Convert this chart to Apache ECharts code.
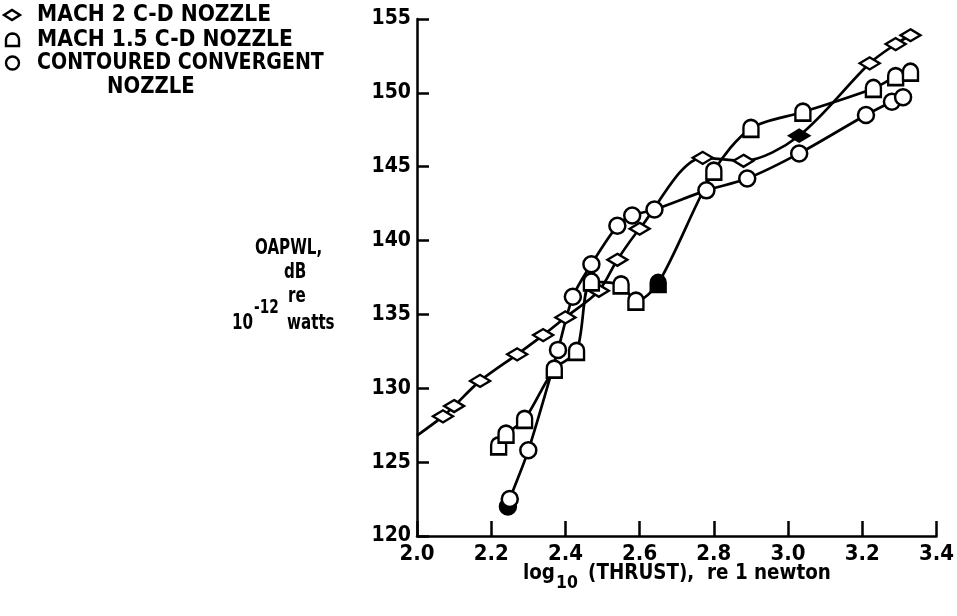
<!DOCTYPE html>
<html><head><meta charset="utf-8">
<script src="https://cdn.jsdelivr.net/npm/echarts@6/dist/echarts.min.js"></script>
<style>html,body{margin:0;padding:0;background:#fff}#c{width:957px;height:616px}</style>
</head><body><div id="c"></div>
<script>
// ---- data ----
const xTickRange = [2.0, 3.4];
const xTickStep = 0.2;
const yTickRange = [120, 155];
const yTickStep = 5;

const seriesNames = ['MACH 2 C-D NOZZLE', 'MACH 1.5 C-D NOZZLE', 'CONTOURED CONVERGENT NOZZLE'];

// MACH 2 C-D nozzle (diamonds)
const mach2X = [2.07, 2.10, 2.17, 2.27, 2.34, 2.40, 2.49, 2.54, 2.60, 2.77, 2.88, 3.03, 3.22, 3.29, 3.33];
const mach2Y = [128.1, 128.8, 130.5, 132.3, 133.6, 134.8, 136.6, 138.7, 140.8, 145.6, 145.4, 147.1, 152.0, 153.3, 153.9];
const mach2Filled = [0,0,0,0,0,0,0,0,0,0,0,1,0,0,0];
const mach2CurveStart = [2.0, 126.8];

// MACH 1.5 C-D nozzle (flat-bottom domes)
const mach15X = [2.22, 2.24, 2.29, 2.37, 2.43, 2.47, 2.55, 2.59, 2.65, 2.80, 2.90, 3.04, 3.23, 3.29, 3.33];
const mach15Y = [126.1, 126.9, 127.9, 131.3, 132.5, 137.2, 137.0, 135.9, 137.1, 144.7, 147.6, 148.7, 150.3, 151.1, 151.4];
const mach15Filled = [0,0,0,0,0,0,0,0,1,0,0,0,0,0,0];

// Contoured convergent nozzle (circles)
const contX = [2.245, 2.25, 2.30, 2.38, 2.42, 2.47, 2.54, 2.58, 2.64, 2.78, 2.89, 3.03, 3.21, 3.28, 3.31];
const contY = [122.0, 122.5, 125.8, 132.6, 136.2, 138.4, 141.0, 141.7, 142.1, 143.4, 144.2, 145.9, 148.5, 149.4, 149.7];
const contFilled = [1,0,0,0,0,0,0,0,0,0,0,0,0,0,0];

// ---- chart ----
const FONT = "'Liberation Sans Narrow','DejaVu Sans Condensed','Roboto Condensed','Liberation Sans',sans-serif";
const DOME = 'path://M0,18 L0,8 C0,3.6 3.6,0 8,0 C12.4,0 16,3.6 16,8 L16,18 Z';
const SYMBOLS = ['diamond', DOME, 'circle'];
const SIZES = [[20, 12], [15, 17], 16];

function pts(xs, ys) { return xs.map((x, i) => [x, ys[i]]); }
function marks(xs, ys, filled) {
  return xs.map((x, i) => filled[i]
    ? { value: [x, ys[i]], itemStyle: { color: '#000' } }
    : { value: [x, ys[i]] });
}

const sets = [
  { x: mach2X, y: mach2Y, f: mach2Filled, curve: [mach2CurveStart].concat(pts(mach2X, mach2Y)) },
  { x: mach15X, y: mach15Y, f: mach15Filled, curve: pts(mach15X, mach15Y) },
  { x: contX, y: contY, f: contFilled, curve: pts(contX, contY) }
];

const series = [];
sets.forEach((s, k) => {
  series.push({
    name: seriesNames[k] + ' curve', type: 'line', data: s.curve, smooth: 0.3,
    showSymbol: false, silent: true, z: 2,
    lineStyle: { color: '#000', width: 2.7 }
  });
});
sets.forEach((s, k) => {
  series.push({
    name: seriesNames[k], type: 'scatter', data: marks(s.x, s.y, s.f),
    symbol: SYMBOLS[k], symbolSize: SIZES[k], z: 3 + k,
    itemStyle: { color: '#fff', borderColor: '#000', borderWidth: 2.5, opacity: 1 }
  });
});

const legendY = [15, 40, 63];
const legendScale = [0.98, 0.98, 0.92];
const legendText = ['MACH 2 C-D NOZZLE', 'MACH 1.5 C-D NOZZLE', 'CONTOURED CONVERGENT'];
const LF = 'bold 23px ' + FONT;
const graphics = [];
legendText.forEach((t, i) => {
  graphics.push({ type: 'text', x: 37, y: legendY[i], scaleX: legendScale[i],
    style: { text: t, font: LF, fill: '#000', verticalAlign: 'middle' } });
});
graphics.push({ type: 'text', x: 107, y: 87, scaleX: 0.95,
  style: { text: 'NOZZLE', font: LF, fill: '#000', verticalAlign: 'middle' } });
// legend keys
graphics.push({ type: 'polygon', shape: { points: [[4, 15], [12, 10], [20, 15], [12, 20]] },
  style: { fill: '#fff', stroke: '#000', lineWidth: 2.4 } });
const domePts = [[6, 46], [6, 40]];
for (let a = 180; a >= 0; a -= 15) {
  const r = a * Math.PI / 180;
  domePts.push([12.5 + 6.5 * Math.cos(r), 40 - 6.5 * Math.sin(r)]);
}
domePts.push([19, 46]);
graphics.push({ type: 'polygon', shape: { points: domePts },
  style: { fill: '#fff', stroke: '#000', lineWidth: 2.4 } });
graphics.push({ type: 'circle', shape: { cx: 12.5, cy: 63, r: 6.5 },
  style: { fill: '#fff', stroke: '#000', lineWidth: 2.4 } });

// y axis title
const ytFont = 'bold 21px ' + FONT;
function ytext(t, x, y, font) {
  graphics.push({ type: 'text', x: x, y: y, scaleX: 0.8,
    style: { text: t, font: font || ytFont, fill: '#000', verticalAlign: 'middle' } });
}
ytext('OAPWL,', 255, 249);
ytext('dB', 284, 273);
ytext('re', 288, 297);
ytext('10', 232, 324);
ytext('-12', 254, 308, 'bold 19px ' + FONT);
ytext('watts', 287, 324);
// x axis title
graphics.push({ type: 'text', x: 523, y: 578, scaleX: 0.97, style: {
  text: '{b|log}{s|10}{b| (THRUST),  re 1 newton}', verticalAlign: 'middle',
  rich: { b: { font: 'bold 21px ' + FONT, fill: '#000', padding: [0, 0, 8, 0] },
          s: { font: 'bold 18px ' + FONT, fill: '#000', padding: [10, 4, 0, 1] } }
} });

const chart = echarts.init(document.getElementById('c'), null, { renderer: 'canvas' });
chart.setOption({
  backgroundColor: '#fff',
  animation: false,
  grid: { left: 417, right: 17, top: 19, bottom: 80, containLabel: false },
  xAxis: {
    type: 'value', min: xTickRange[0], max: xTickRange[1], interval: xTickStep,
    axisLine: { show: true, onZero: false, lineStyle: { color: '#000', width: 2.5 } },
    axisTick: { show: true, inside: true, length: 15, lineStyle: { color: '#000', width: 2.5 } },
    axisLabel: { formatter: v => v.toFixed(1), color: '#000', fontSize: 22, fontWeight: 'bold', fontFamily: FONT, margin: 7 },
    splitLine: { show: false }
  },
  yAxis: {
    type: 'value', min: yTickRange[0], max: yTickRange[1], interval: yTickStep,
    axisLine: { show: true, onZero: false, lineStyle: { color: '#000', width: 2.5 } },
    axisTick: { show: true, inside: true, length: 12, lineStyle: { color: '#000', width: 2.5 } },
    axisLabel: { color: '#000', fontSize: 21, fontWeight: 'bold', fontFamily: FONT, margin: 6 },
    splitLine: { show: false }
  },
  graphic: graphics,
  series: series
});
</script></body></html>
